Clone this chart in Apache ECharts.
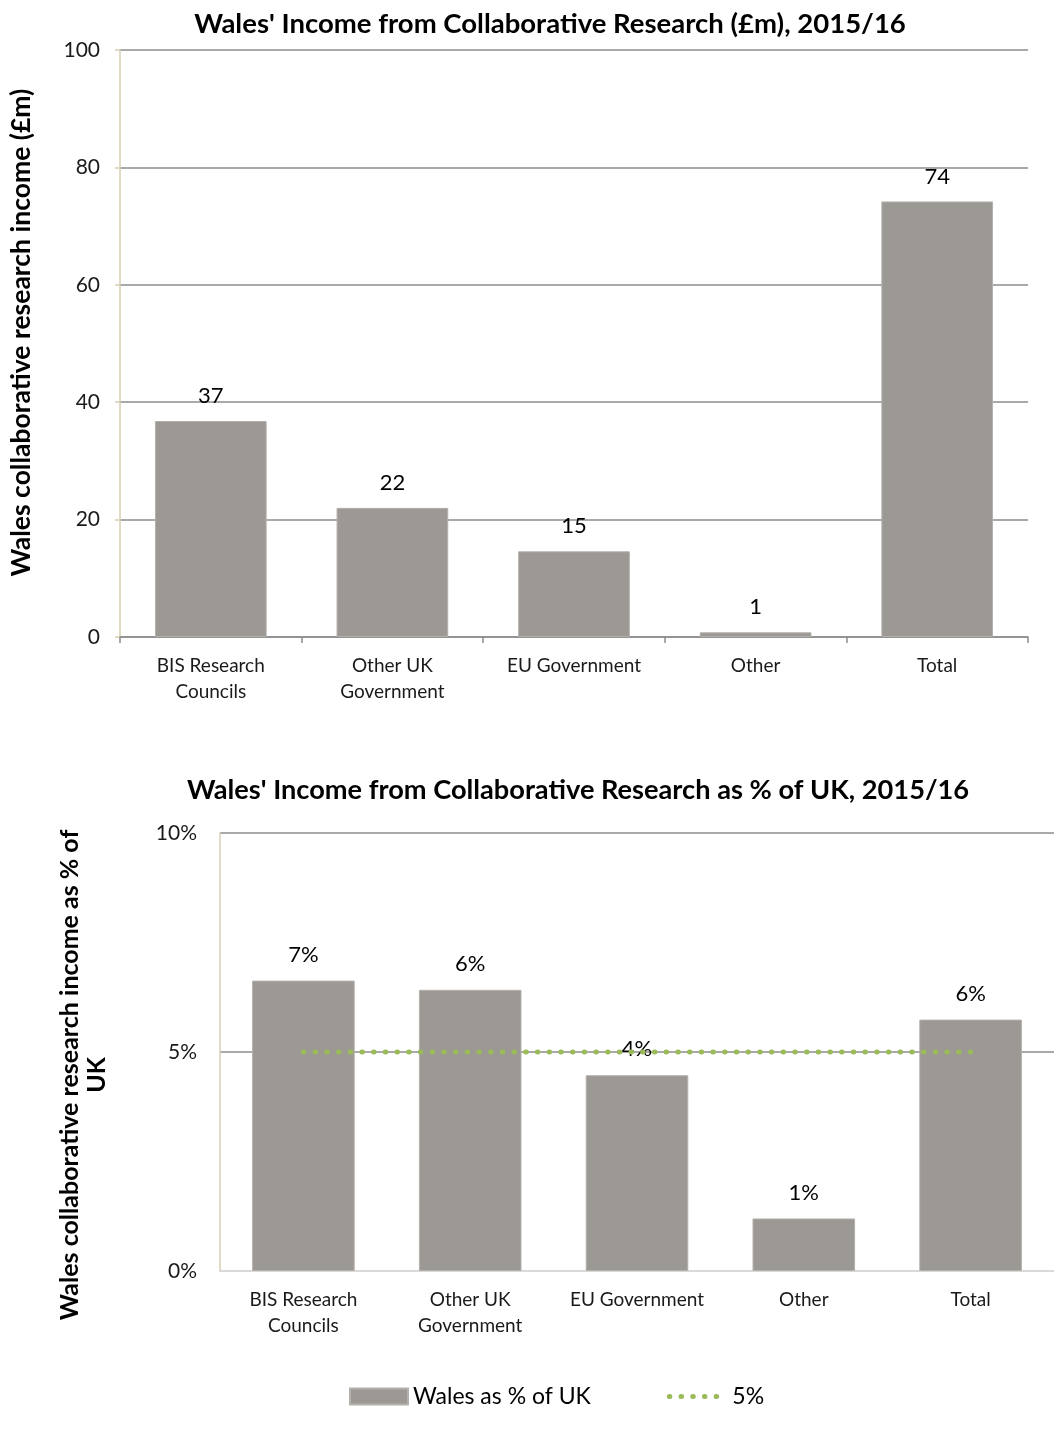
<!DOCTYPE html>
<html>
<head>
<meta charset="utf-8">
<title>Wales' Income from Collaborative Research, 2015/16</title>
<script src="https://cdn.jsdelivr.net/npm/echarts@6/dist/echarts.min.js"></script>
<style>
  html, body { margin: 0; padding: 0; background: #fff; }
  #chart { width: 1054px; height: 1430px; }
</style>
</head>
<body>
<div id="chart"></div>
<script>
// Funding sources
const categories = ['BIS Research\nCouncils', 'Other UK\nGovernment', 'EU Government', 'Other', 'Total'];
// Wales collaborative research income, £m
const incomeValues = [36.8, 22.0, 14.6, 0.8, 74.2];
// Wales income as a share of the UK, %
const shareValues = [6.63, 6.42, 4.47, 1.2, 5.74];
// 5% reference level
const benchmark = [5, 5, 5, 5, 5];
// Axis ticks
const incomeTicks = { min: 0, max: 100, interval: 20 };
const shareTicks = { min: 0, max: 10, interval: 5 };

const FONT = 'Lato';
const BAR = '#9C9894';
const GRID_LINE = '#8C8C8C';
const TAN = '#D6CFB2';
const GREEN = '#9BBB59';
const DOTS = { color: GREEN, width: 5, type: [0.5, 11.2], cap: 'round' };

const chart = echarts.init(document.getElementById('chart'));

const tickLabel = { color: '#1a1a1a', fontFamily: FONT, fontSize: 21 };
const catLabel = { color: '#1a1a1a', fontFamily: FONT, fontSize: 19, lineHeight: 26, interval: 0 };
const valueLabel = { fontFamily: FONT, fontSize: 22, color: '#000' };

chart.setOption({
  backgroundColor: '#fff',
  animation: false,
  title: [
    {
      text: "Wales' Income from Collaborative Research (£m), 2015/16",
      left: 545, top: 5, textAlign: 'center',
      textStyle: { fontFamily: FONT, fontWeight: 'bold', fontSize: 27.5, color: '#000' }
    },
    {
      text: "Wales' Income from Collaborative Research as % of UK, 2015/16",
      left: 573, top: 772, textAlign: 'center',
      textStyle: { fontFamily: FONT, fontWeight: 'bold', fontSize: 27.2, color: '#000' }
    }
  ],
  legend: {
    left: 344, top: 1380,
    itemWidth: 58, itemHeight: 16, itemGap: 76,
    textStyle: { fontFamily: FONT, fontSize: 23, color: '#000' },
    data: [
      { name: 'Wales as % of UK', icon: 'rect' },
      { name: '5%', itemStyle: { opacity: 0 }, lineStyle: DOTS }
    ]
  },
  grid: [
    { left: 120, top: 50, width: 908, height: 587 },
    { left: 220, top: 833, width: 845, height: 438 }
  ],
  xAxis: [
    {
      gridIndex: 0, type: 'category', data: categories,
      axisLine: { lineStyle: { color: GRID_LINE, width: 1.5 } },
      axisTick: { show: true, length: 6, lineStyle: { color: GRID_LINE, width: 1.5 } },
      axisLabel: Object.assign({ margin: 16 }, catLabel)
    },
    {
      gridIndex: 1, type: 'category', data: categories,
      axisLine: { lineStyle: { color: '#D9D9D9', width: 2 } },
      axisTick: { show: false },
      axisLabel: Object.assign({ margin: 16 }, catLabel)
    }
  ],
  yAxis: [
    {
      gridIndex: 0, type: 'value',
      min: incomeTicks.min, max: incomeTicks.max, interval: incomeTicks.interval,
      name: 'Wales collaborative research income (£m)',
      nameLocation: 'middle', nameRotate: 90, nameGap: 85,
      nameTextStyle: { fontFamily: FONT, fontWeight: 'bold', fontSize: 26.5, color: '#000', padding: [0, 0, 0, 22] },
      axisLine: { show: true, lineStyle: { color: TAN, width: 1.5 } },
      axisTick: { show: true, length: 5, lineStyle: { color: TAN, width: 1.5 } },
      splitLine: { lineStyle: { color: GRID_LINE, width: 1.5 } },
      axisLabel: Object.assign({ margin: 20 }, tickLabel)
    },
    {
      gridIndex: 1, type: 'value',
      min: shareTicks.min, max: shareTicks.max, interval: shareTicks.interval,
      name: 'Wales collaborative research income as % of\nUK',
      nameLocation: 'middle', nameRotate: 90, nameGap: 110,
      nameTextStyle: { fontFamily: FONT, fontWeight: 'bold', fontSize: 25, color: '#000', lineHeight: 27, padding: [0, 46, 0, 0] },
      axisLine: { show: true, lineStyle: { color: TAN, width: 1.5 } },
      axisTick: { show: false },
      splitLine: { lineStyle: { color: GRID_LINE, width: 1.5 } },
      axisLabel: Object.assign({ margin: 23, formatter: '{value}%' }, tickLabel)
    }
  ],
  series: [
    {
      name: 'Income (£m)', type: 'bar', xAxisIndex: 0, yAxisIndex: 0,
      data: incomeValues, barWidth: '61.5%',
      itemStyle: { color: BAR, borderColor: '#B4B0AC', borderWidth: 1 },
      label: Object.assign({
        show: true, position: 'top', distance: 14,
        formatter: p => Math.round(p.value)
      }, valueLabel)
    },
    {
      name: 'Wales as % of UK', type: 'bar', xAxisIndex: 1, yAxisIndex: 1,
      data: shareValues, barWidth: '61.5%',
      itemStyle: { color: BAR, borderColor: '#B4B0AC', borderWidth: 1 },
      label: Object.assign({
        show: true, position: 'top', distance: 15,
        formatter: p => Math.round(p.value) + '%'
      }, valueLabel)
    },
    {
      name: '5%', type: 'line', xAxisIndex: 1, yAxisIndex: 1,
      data: benchmark, symbol: 'none', z: 5,
      itemStyle: { color: GREEN },
      lineStyle: DOTS
    }
  ]
});
</script>
</body>
</html>
